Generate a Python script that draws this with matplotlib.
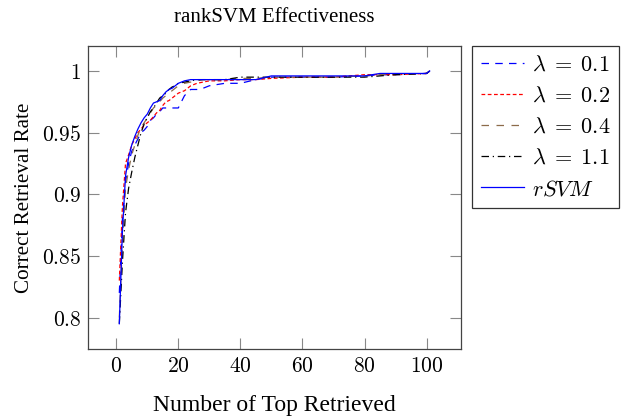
import matplotlib
matplotlib.use("Agg")
import matplotlib.pyplot as plt

plt.rcParams['mathtext.fontset'] = 'cm'

x = [1, 2, 3, 4, 5, 6, 7, 8, 9, 10, 11, 12, 13, 14, 15, 16, 17, 18, 19, 20,
     22, 24, 26, 28, 30, 35, 40, 45, 50, 60, 70, 80, 85, 90, 100, 101]

lam01 = [0.820, 0.880, 0.910, 0.925, 0.935, 0.940, 0.945, 0.950, 0.952, 0.955,
         0.960, 0.962, 0.965, 0.967, 0.970, 0.970, 0.970, 0.970, 0.970, 0.970,
         0.980, 0.985, 0.985, 0.986, 0.988, 0.990, 0.990, 0.993, 0.995, 0.995,
         0.995, 0.996, 0.997, 0.997, 0.998, 1.000]
lam02 = [0.830, 0.890, 0.925, 0.932, 0.940, 0.945, 0.950, 0.953, 0.956, 0.958,
         0.960, 0.963, 0.966, 0.968, 0.972, 0.975, 0.976, 0.978, 0.980, 0.982,
         0.984, 0.988, 0.990, 0.991, 0.992, 0.992, 0.993, 0.993, 0.994, 0.995,
         0.995, 0.997, 0.997, 0.997, 0.998, 1.000]
lam04 = [0.800, 0.860, 0.905, 0.920, 0.932, 0.940, 0.948, 0.954, 0.958, 0.962,
         0.966, 0.970, 0.972, 0.975, 0.978, 0.980, 0.982, 0.984, 0.986, 0.988,
         0.990, 0.991, 0.992, 0.993, 0.993, 0.993, 0.994, 0.994, 0.995, 0.995,
         0.995, 0.996, 0.997, 0.997, 0.998, 1.000]
lam11 = [0.795, 0.845, 0.885, 0.905, 0.918, 0.930, 0.940, 0.950, 0.957, 0.962,
         0.967, 0.970, 0.974, 0.978, 0.980, 0.982, 0.985, 0.987, 0.988, 0.990,
         0.991, 0.992, 0.993, 0.993, 0.993, 0.993, 0.995, 0.995, 0.995, 0.995,
         0.995, 0.995, 0.996, 0.997, 0.998, 1.000]
rsvm = [0.795, 0.870, 0.915, 0.930, 0.940, 0.947, 0.953, 0.958, 0.962, 0.965,
        0.970, 0.974, 0.975, 0.976, 0.980, 0.983, 0.985, 0.986, 0.988, 0.990,
        0.992, 0.993, 0.993, 0.993, 0.993, 0.993, 0.993, 0.993, 0.996, 0.996,
        0.996, 0.996, 0.998, 0.998, 0.998, 1.000]

xticks = [0, 20, 40, 60, 80, 100]
yticks = [0.8, 0.85, 0.9, 0.95, 1.0]
xticklabels = [r'$0$', r'$20$', r'$40$', r'$60$', r'$80$', r'$100$']
yticklabels = [r'$0.8$', r'$0.85$', r'$0.9$', r'$0.95$', r'$1$']

fig = plt.figure(figsize=(6.27, 4.17), dpi=100)
ax = fig.add_axes([0.1408, 0.163, 0.594, 0.7274])

lw = 0.9
ax.plot(x, lam01, color='#0000ff', lw=lw, dashes=(6, 5), label=r'$\lambda\;=\;0.1$')
ax.plot(x, lam02, color='#ff0000', lw=lw, dashes=(3, 2), label=r'$\lambda\;=\;0.2$')
ax.plot(x, lam04, color='#8c6b4a', lw=lw, dashes=(6, 6), label=r'$\lambda\;=\;0.4$')
ax.plot(x, lam11, color='black', lw=lw, dashes=(6, 3, 1, 3), label=r'$\lambda\;=\;1.1$')
ax.plot(x, rsvm, color='#0000ff', lw=lw, label=r'$rSVM$')

ax.set_xlim(-9, 111)
ax.set_ylim(0.7745, 1.0205)
ax.set_xticks(xticks)
ax.set_xticklabels(xticklabels, fontsize=15.5)
ax.set_yticks(yticks)
ax.set_yticklabels(yticklabels, fontsize=15.5)
ax.tick_params(direction='in', length=8, width=0.8, color='#888888',
               top=True, right=True, pad=5)
for s in ax.spines.values():
    s.set_color('#444444')
    s.set_linewidth(0.9)

ax.set_title('rankSVM Effectiveness', fontfamily='Liberation Serif', fontsize=15, pad=17)
ax.set_xlabel('Number of Top Retrieved', fontfamily='Liberation Serif', fontsize=17, labelpad=14)
ax.set_ylabel('Correct Retrieval Rate', fontfamily='Liberation Serif', fontsize=15.2, labelpad=6)

leg = ax.legend(loc='upper left', bbox_to_anchor=(472 / 627, 1 - 45.7 / 417),
                bbox_transform=fig.transFigure, fontsize=16, frameon=True,
                fancybox=False, edgecolor='black', handlelength=1.95,
                borderaxespad=0, labelspacing=0.5, borderpad=0.4, handletextpad=0.35)
leg.get_frame().set_linewidth(0.9)

fig.savefig('out.png', dpi=100)
